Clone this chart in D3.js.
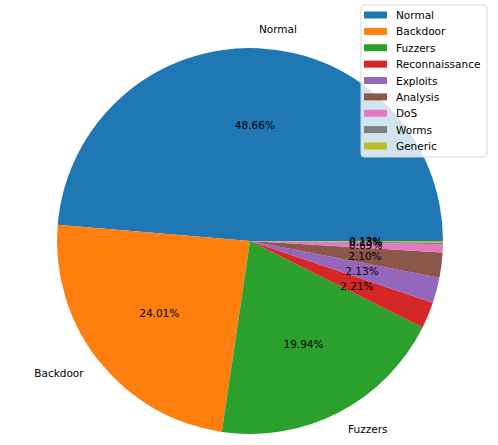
<!DOCTYPE html>
<html>
<head>
<meta charset="utf-8">
<script src="https://cdn.jsdelivr.net/npm/d3@7"></script>
<style>
  body { margin: 0; background: #fff; }
  text { font-family: "DejaVu Sans", sans-serif; }
</style>
</head>
<body>
<svg id="chart" width="498" height="445"></svg>
<script>
// class shares in percent
const categories = ["Normal", "Backdoor", "Fuzzers", "Reconnaissance", "Exploits", "Analysis", "DoS", "Worms", "Generic"];
const shares = [48.66, 24.01, 19.94, 2.21, 2.13, 2.10, 0.69, 0.13, 0.13];
// only the big slices get an outside label
const sliceLabels = ["Normal", "Backdoor", "Fuzzers", "", "", "", "", "", ""];
const colors = ["#1f77b4", "#ff7f0e", "#2ca02c", "#d62728", "#9467bd", "#8c564b", "#e377c2", "#7f7f7f", "#bcbd22"];

const svg = d3.select("#chart");
const cx = 250, cy = 241, R = 193;

const data = categories.map((c, i) => ({ name: c, value: shares[i], label: sliceLabels[i], color: colors[i] }));

// matplotlib style: start at 3 o'clock, go counterclockwise
const pie = d3.pie()
  .value(d => d.value)
  .sort(null)
  .startAngle(Math.PI / 2)
  .endAngle(Math.PI / 2 - 2 * Math.PI);

const arcs = pie(data);
const arc = d3.arc().innerRadius(0).outerRadius(R);
const pctArc = d3.arc().innerRadius(0.6 * R).outerRadius(0.6 * R);
const lblArc = d3.arc().innerRadius(1.1 * R).outerRadius(1.1 * R);

const g = svg.append("g").attr("transform", `translate(${cx},${cy})`);

g.selectAll("path.slice")
  .data(arcs)
  .enter().append("path")
    .attr("class", "slice")
    .attr("d", arc)
    .attr("fill", d => d.data.color);

const total = d3.sum(shares);
g.selectAll("text.pct")
  .data(arcs)
  .enter().append("text")
    .attr("class", "pct")
    .attr("transform", d => `translate(${pctArc.centroid(d)})`)
    .attr("text-anchor", "middle")
    .attr("dominant-baseline", "central")
    .attr("font-size", "10.5px")
    .attr("fill", "#000")
    .text(d => (d.data.value / total * 100).toFixed(2) + "%");

g.selectAll("text.lbl")
  .data(arcs.filter(d => d.data.label))
  .enter().append("text")
    .attr("class", "lbl")
    .attr("transform", d => `translate(${lblArc.centroid(d)})`)
    .attr("text-anchor", d => lblArc.centroid(d)[0] > 0 ? "start" : "end")
    .attr("dominant-baseline", "central")
    .attr("font-size", "10.5px")
    .attr("fill", "#000")
    .text(d => d.data.label);

// legend
const lg = svg.append("g").attr("transform", "translate(361,5)");
lg.append("rect")
  .attr("width", 126).attr("height", 152)
  .attr("rx", 3)
  .attr("fill", "#fff").attr("fill-opacity", 0.8)
  .attr("stroke", "#d6d6d6").attr("stroke-width", 1);

const rowY = d3.scaleLinear().domain([0, categories.length - 1]).range([10, 141]);
const item = lg.selectAll("g.item")
  .data(data)
  .enter().append("g")
    .attr("class", "item")
    .attr("transform", (d, i) => `translate(0,${rowY(i)})`);

item.append("rect")
  .attr("x", 3).attr("y", -3.5)
  .attr("width", 23).attr("height", 7)
  .attr("fill", d => d.color);

item.append("text")
  .attr("x", 35)
  .attr("dominant-baseline", "central")
  .attr("font-size", "10.5px")
  .attr("fill", "#000")
  .text(d => d.name);
</script>
</body>
</html>
